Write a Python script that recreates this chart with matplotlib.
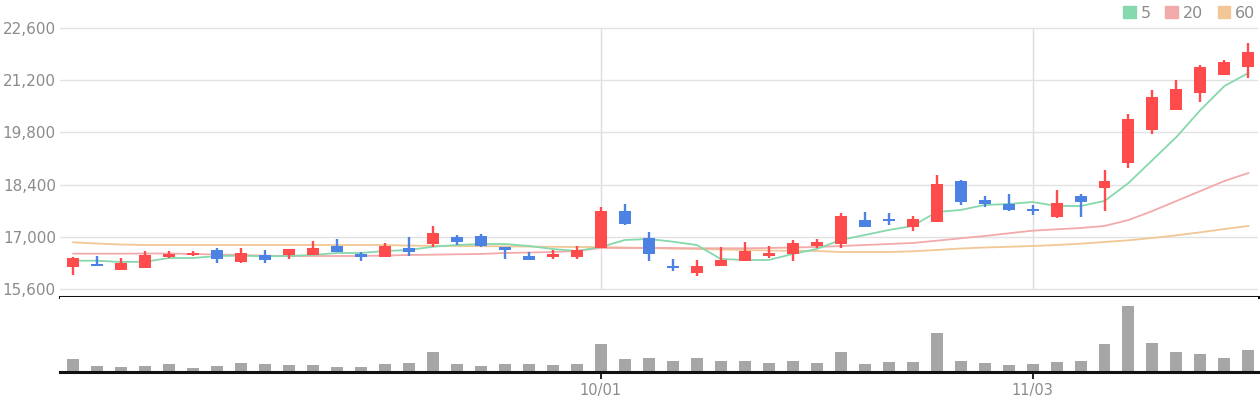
import numpy as np
import matplotlib
matplotlib.use('Agg')
from matplotlib import pyplot as plt
from matplotlib.patches import Patch

# Daily data (Sep 1 - Nov 14)
dates = (['09/%02d' % d for d in [1, 2, 3, 4, 5, 8, 9, 10, 11, 12, 15, 16, 17, 18, 19,
                                   22, 23, 24, 25, 26, 29, 30]]
         + ['10/%02d' % d for d in [1, 2, 10, 13, 14, 15, 16, 17, 20, 21, 22, 23, 24,
                                    27, 28, 29, 30, 31]]
         + ['11/%02d' % d for d in [3, 4, 5, 6, 7, 10, 11, 12, 13, 14]])

opens = [16200, 16270, 16120, 16170, 16460, 16510, 16650, 16330, 16510, 16510,
         16510, 16750, 16540, 16460, 16700, 16810, 17000, 17020, 16730, 16490,
         16460, 16460, 16700, 17690, 16970, 16220, 16030, 16220, 16350, 16490,
         16540, 16750, 16810, 17450, 17470, 17260, 17400, 18500, 17990, 17880,
         17750, 17530, 18090, 18310, 18980, 19860, 20400, 20860, 21340, 21550]
highs = [16460, 16490, 16430, 16620, 16620, 16620, 16700, 16700, 16650, 16670,
         16890, 16940, 16590, 16830, 17000, 17290, 17050, 17080, 16730, 16590,
         16650, 16750, 17800, 17880, 17130, 16410, 16380, 16730, 16860, 16750,
         16910, 16940, 17640, 17670, 17640, 17560, 18660, 18520, 18090, 18150,
         17850, 18260, 18150, 18790, 20290, 20940, 21210, 21610, 21740, 22200]
lows = [15980, 16220, 16120, 16170, 16430, 16490, 16300, 16300, 16300, 16410,
        16510, 16590, 16350, 16460, 16490, 16730, 16780, 16730, 16400, 16380,
        16400, 16400, 16700, 17320, 16350, 16080, 15950, 16220, 16350, 16430,
        16350, 16700, 16700, 17270, 17320, 17160, 17400, 17850, 17800, 17690,
        17590, 17500, 17530, 17690, 18840, 19760, 20400, 20620, 21340, 21260]
closes = [16430, 16220, 16300, 16510, 16540, 16560, 16410, 16560, 16390, 16670,
          16700, 16590, 16460, 16750, 16590, 17100, 16860, 16750, 16650, 16380,
          16540, 16650, 17690, 17340, 16540, 16170, 16220, 16380, 16620, 16560,
          16830, 16860, 17560, 17270, 17420, 17480, 18420, 17930, 17880, 17720,
          17700, 17910, 17930, 18500, 20160, 20750, 20960, 21550, 21690, 21960]
volumes = [38, 17, 14, 17, 23, 11, 17, 26, 23, 20,
           20, 14, 14, 23, 26, 59, 23, 17, 23, 23,
           20, 23, 83, 38, 41, 32, 41, 32, 32, 26,
           32, 26, 59, 23, 29, 29, 116, 32, 26, 20,
           23, 29, 32, 83, 197, 86, 59, 53, 41, 65]  # x1000

ma5 = [16359, 16359, 16324, 16332, 16431, 16431, 16485, 16493, 16477, 16485,
       16512, 16566, 16566, 16619, 16646, 16734, 16780, 16807, 16807, 16753,
       16673, 16619, 16726, 16914, 16941, 16869, 16780, 16405, 16378, 16378,
       16539, 16673, 16914, 17048, 17182, 17290, 17665, 17719, 17853, 17880,
       17933, 17826, 17826, 17960, 18443, 19060, 19677, 20401, 21044, 21393]
ma20 = [16547, 16547, 16547, 16552, 16552, 16539, 16525, 16512, 16493, 16485,
        16485, 16485, 16485, 16498, 16512, 16520, 16531, 16539, 16566, 16579,
        16592, 16619, 16700, 16700, 16700, 16700, 16692, 16692, 16692, 16700,
        16713, 16726, 16753, 16780, 16807, 16834, 16895, 16960, 17021, 17094,
        17164, 17201, 17236, 17290, 17451, 17692, 17960, 18228, 18497, 18711]
ma60 = [16852, 16820, 16793, 16780, 16780, 16780, 16780, 16780, 16780, 16780,
        16780, 16780, 16780, 16780, 16764, 16759, 16753, 16748, 16743, 16737,
        16732, 16726, 16726, 16713, 16700, 16681, 16673, 16659, 16646, 16633,
        16625, 16619, 16592, 16592, 16592, 16611, 16646, 16686, 16713, 16732,
        16753, 16780, 16815, 16861, 16906, 16968, 17040, 17121, 17209, 17290]

price_ticks = [15600, 17000, 18400, 19800, 21200, 22600]

up_c = '#ff4b4b'
down_c = '#4c82e3'
ma_colors = ['#86d8ad', '#f3aaaa', '#f1c796']
txt_c = '#8c8c8c'

x = np.arange(len(dates))
o = np.array(opens); c = np.array(closes)
cols = [up_c if cc >= oo else down_c for oo, cc in zip(o, c)]

fig = plt.figure(figsize=(12.6, 4.0), dpi=100)
W, H = 1260., 400.
ax = fig.add_axes([60/W, 1-297/H, 1198/W, 277/H])
vax = fig.add_axes([60/W, 1-372/H, 1198/W, 75/H])

# price panel
px = 7000/261.
ax.set_ylim(15600 - 8*px, 22600 + 8*px)
ax.set_xlim(-0.55, 49.4)
ax.set_yticks(price_ticks)
ax.set_yticklabels(['{:,}'.format(t) for t in price_ticks])
ax.yaxis.grid(True, color='#e2e2e2', lw=1.0, zorder=0)
month_idx = [i for i in range(1, len(dates)) if dates[i][:2] != dates[i-1][:2]]
ax.vlines(month_idx, price_ticks[0], price_ticks[-1], color='#dcdcdc', lw=1.0, zorder=0)

for ma, col in zip([ma60, ma20, ma5], ma_colors[::-1]):
    ax.plot(x, ma, color=col, lw=1.3, zorder=2)

ax.vlines(x, lows, highs, color=cols, lw=1.7, zorder=3)
ax.bar(x, np.abs(c - o), bottom=np.minimum(o, c), width=0.5, color=cols, lw=0, zorder=4)

for s in ['top', 'left', 'right']:
    ax.spines[s].set_visible(False)
ax.spines['bottom'].set_color('#111111')
ax.spines['bottom'].set_linewidth(2.2)
ax.tick_params(axis='y', length=0, pad=3, labelsize=11, labelcolor=txt_c)
ax.tick_params(axis='x', bottom=False, labelbottom=False)

# volume panel
vax.bar(x, volumes, width=0.5, color='#a6a6a6', lw=0)
vax.set_xlim(ax.get_xlim())
vax.set_ylim(0, 225)
vax.set_yticks([])
for s in ['top', 'left', 'right']:
    vax.spines[s].set_visible(False)
vax.spines['bottom'].set_color('#111111')
vax.spines['bottom'].set_linewidth(2.2)
vax.set_xticks(month_idx)
vax.set_xticklabels([dates[i] for i in month_idx])
vax.tick_params(axis='x', length=5, width=1.3, color='#111111', pad=3,
                labelsize=10.5, labelcolor=txt_c)

# legend
handles = [Patch(color=col, label=lab) for col, lab in zip(ma_colors, ['5', '20', '60'])]
fig.legend(handles=handles, loc='upper right', bbox_to_anchor=(1.004, 1.01), ncol=3,
           frameon=False, fontsize=11.5, labelcolor=txt_c, handlelength=0.8,
           handleheight=0.8, handletextpad=0.3, columnspacing=0.9, borderaxespad=0.2)

fig.savefig('out.png', dpi=100)
